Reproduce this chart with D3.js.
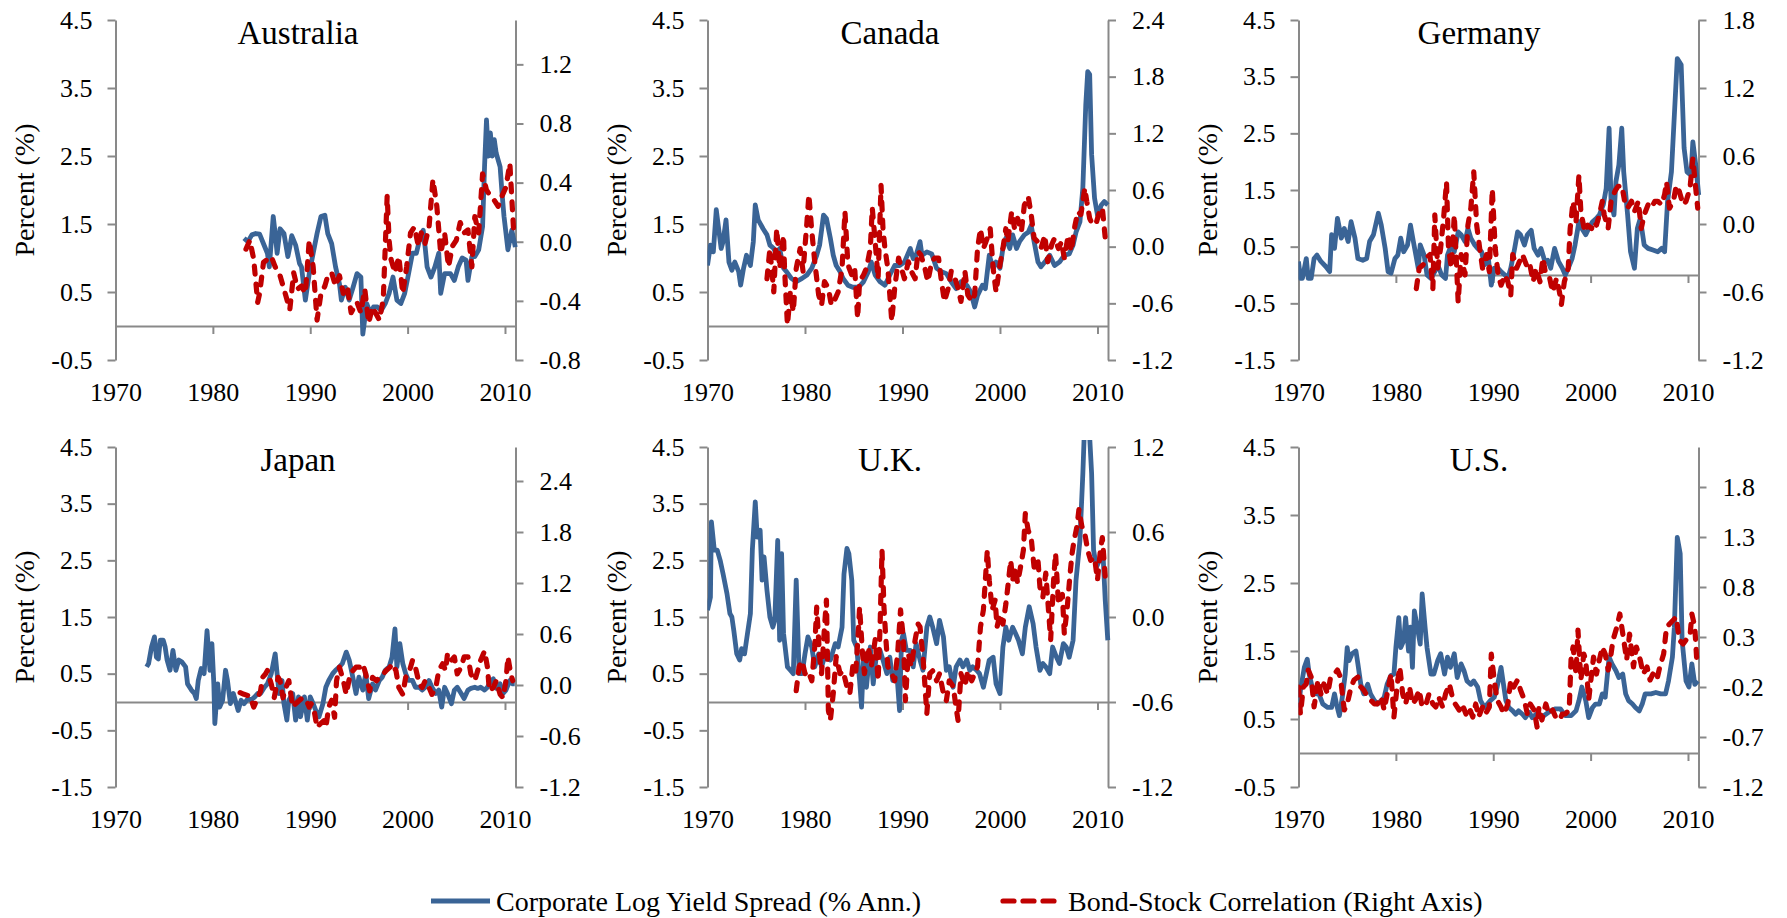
<!DOCTYPE html>
<html><head><meta charset="utf-8">
<script src="https://cdn.jsdelivr.net/npm/d3@7"></script>
<style>
html,body{margin:0;padding:0;background:#fff;}
svg{display:block;font-family:"Liberation Serif","Times New Roman",serif;}
svg text{font-family:"Liberation Serif","Times New Roman",serif;}
</style></head><body>
<svg id="chart" width="1787" height="918"></svg>
<script>
// ---------- data: [year, value] ----------
const ausSpread=[[1983.2,1.29],[1983.6,1.24],[1984.0,1.34],[1984.4,1.36],[1984.8,1.35],[1985.2,1.21],[1985.6,1.07],[1985.8,0.87],[1986.2,1.61],[1986.4,1.36],[1986.6,1.07],[1986.9,1.43],[1987.3,1.36],[1987.7,1.02],[1987.9,1.16],[1988.1,1.33],[1988.5,1.19],[1988.9,0.92],[1989.1,0.87],[1989.5,0.38],[1989.9,0.77],[1990.3,1.07],[1990.7,1.36],[1991.1,1.61],[1991.5,1.63],[1991.8,1.36],[1992.2,1.21],[1992.6,0.87],[1993.0,0.62],[1993.2,0.38],[1993.6,0.57],[1994.0,0.38],[1994.4,0.57],[1994.8,0.77],[1995.2,0.72],[1995.4,-0.12],[1995.8,0.33],[1996.2,0.18],[1996.5,0.28],[1996.9,0.28],[1997.3,0.23],[1997.7,0.33],[1998.1,0.48],[1998.5,0.72],[1998.9,0.38],[1999.3,0.33],[1999.7,0.48],[2000.1,0.77],[2000.5,1.07],[2000.9,1.07],[2001.3,1.31],[2001.6,1.41],[2001.8,1.16],[2002.0,0.87],[2002.4,0.72],[2002.8,0.87],[2003.2,1.07],[2003.4,0.48],[2003.8,0.77],[2004.4,0.77],[2004.8,0.67],[2005.2,0.87],[2005.6,1.0],[2006.0,0.97],[2006.2,0.67],[2006.6,1.02],[2006.9,1.02],[2007.3,1.12],[2007.7,1.46],[2007.9,2.34],[2008.1,3.03],[2008.3,2.5],[2008.5,2.84],[2008.7,2.5],[2008.9,2.74],[2009.1,2.54],[2009.5,2.34],[2009.7,1.95],[2009.9,1.61],[2010.3,1.12],[2010.7,1.41],[2011.06,1.16]];
const ausCorr=[[1983.4,-0.05],[1983.8,0.01],[1984.2,-0.12],[1984.6,-0.41],[1984.8,-0.35],[1985.2,-0.14],[1985.6,-0.12],[1986.0,-0.10],[1986.4,-0.17],[1986.9,-0.23],[1987.3,-0.32],[1987.9,-0.46],[1988.3,-0.21],[1988.7,-0.32],[1989.1,-0.30],[1989.5,-0.35],[1989.9,0.01],[1990.3,-0.17],[1990.7,-0.53],[1991.1,-0.35],[1991.5,-0.30],[1991.8,-0.23],[1992.2,-0.21],[1992.6,-0.30],[1993.0,-0.23],[1993.4,-0.35],[1993.8,-0.30],[1994.2,-0.48],[1994.8,-0.41],[1995.2,-0.48],[1995.6,-0.32],[1996.0,-0.55],[1996.4,-0.44],[1996.7,-0.48],[1997.1,-0.53],[1997.5,-0.39],[1997.9,0.31],[1998.1,0.01],[1998.3,-0.12],[1998.7,-0.21],[1999.1,-0.10],[1999.5,-0.35],[1999.9,-0.17],[2000.3,0.06],[2000.7,0.10],[2001.1,-0.03],[2001.4,0.06],[2001.8,-0.01],[2002.2,0.10],[2002.6,0.42],[2003.0,0.24],[2003.4,-0.08],[2003.8,0.06],[2004.2,-0.17],[2004.6,-0.03],[2005.0,0.01],[2005.4,0.13],[2005.8,0.06],[2006.2,0.08],[2006.6,-0.17],[2006.9,0.17],[2007.3,0.06],[2007.7,0.46],[2008.1,0.35],[2008.5,0.31],[2008.9,0.28],[2009.3,0.24],[2009.7,0.31],[2010.1,0.37],[2010.5,0.53],[2010.9,0.06]];

const canSpread=[[1970.0,0.89],[1970.3,1.19],[1970.6,1.09],[1970.9,1.71],[1971.1,1.48],[1971.4,1.14],[1971.6,1.24],[1971.9,1.56],[1972.2,0.94],[1972.5,0.82],[1972.8,0.94],[1973.2,0.80],[1973.4,0.60],[1973.7,0.85],[1974.0,1.04],[1974.4,0.89],[1974.7,1.24],[1974.9,1.78],[1975.2,1.56],[1975.7,1.43],[1976.1,1.34],[1976.4,1.19],[1976.8,1.14],[1977.1,1.04],[1977.4,1.14],[1977.8,0.85],[1978.1,0.80],[1978.6,0.70],[1979.1,0.65],[1979.7,0.70],[1980.2,0.75],[1980.7,0.85],[1981.2,1.04],[1981.5,1.19],[1981.9,1.63],[1982.2,1.58],[1982.6,1.29],[1982.9,1.04],[1983.2,0.89],[1983.6,0.80],[1983.9,0.70],[1984.4,0.60],[1984.9,0.57],[1985.5,0.57],[1986.0,0.65],[1986.5,0.80],[1986.8,0.94],[1987.2,0.75],[1987.7,0.65],[1988.2,0.60],[1988.7,0.75],[1989.2,0.89],[1989.7,0.89],[1990.2,0.94],[1990.8,1.14],[1991.1,0.99],[1991.4,1.04],[1991.8,1.24],[1992.0,1.04],[1992.5,1.09],[1993.0,1.06],[1993.5,0.85],[1994.0,0.80],[1994.5,0.77],[1995.0,0.65],[1995.5,0.55],[1996.0,0.65],[1996.6,0.60],[1997.0,0.50],[1997.4,0.28],[1997.7,0.45],[1998.2,0.60],[1998.5,0.55],[1998.9,1.04],[1999.3,0.85],[1999.6,0.94],[2000.0,0.85],[2000.3,1.14],[2000.6,1.29],[2001.0,1.14],[2001.3,1.34],[2001.7,1.14],[2002.0,1.24],[2002.5,1.34],[2002.9,1.38],[2003.2,1.48],[2003.5,1.24],[2003.9,0.94],[2004.2,0.87],[2004.6,0.94],[2005.1,1.04],[2005.6,0.89],[2006.1,0.94],[2006.6,1.04],[2007.1,1.06],[2007.5,1.19],[2007.8,1.38],[2008.2,1.53],[2008.5,2.03],[2008.8,3.25],[2009.0,3.74],[2009.2,3.70],[2009.4,2.52],[2009.7,1.88],[2010.0,1.63],[2010.4,1.78],[2010.7,1.83],[2011.06,1.78]];
const canCorr=[[1976.1,-0.34],[1976.4,-0.02],[1976.8,-0.48],[1977.1,0.19],[1977.4,-0.23],[1977.8,0.12],[1977.9,-0.23],[1978.2,-0.83],[1978.5,-0.48],[1978.8,-0.69],[1979.1,-0.23],[1979.5,-0.02],[1979.8,-0.26],[1980.2,0.26],[1980.4,0.55],[1980.7,0.16],[1981.0,-0.16],[1981.4,-0.51],[1981.7,-0.62],[1982.0,-0.37],[1982.4,-0.44],[1982.7,-0.62],[1983.1,-0.55],[1983.4,-0.48],[1983.8,-0.23],[1984.1,0.37],[1984.4,-0.19],[1984.8,-0.30],[1985.1,-0.23],[1985.4,-0.76],[1985.6,-0.37],[1986.0,-0.30],[1986.3,-0.23],[1986.7,-0.02],[1986.9,0.41],[1987.2,0.05],[1987.5,-0.34],[1987.8,0.65],[1988.0,0.19],[1988.2,-0.02],[1988.5,-0.23],[1988.9,-0.79],[1989.2,-0.44],[1989.6,-0.12],[1989.9,-0.23],[1990.2,-0.34],[1990.6,-0.16],[1990.9,-0.26],[1991.3,-0.34],[1991.6,-0.05],[1991.9,-0.09],[1992.3,-0.23],[1992.6,-0.37],[1993.0,-0.16],[1993.3,-0.12],[1993.7,-0.12],[1994.0,-0.37],[1994.3,-0.58],[1994.7,-0.44],[1995.0,-0.26],[1995.4,-0.34],[1995.7,-0.44],[1996.0,-0.58],[1996.4,-0.26],[1996.7,-0.51],[1997.1,-0.58],[1997.4,-0.51],[1997.7,-0.02],[1998.0,0.19],[1998.3,-0.02],[1998.7,0.09],[1999.0,0.19],[1999.3,-0.23],[1999.6,-0.48],[2000.0,-0.19],[2000.3,-0.02],[2000.6,0.19],[2000.8,0.05],[2001.2,0.37],[2001.5,0.19],[2001.8,0.30],[2002.2,0.16],[2002.5,0.44],[2002.9,0.53],[2003.2,0.34],[2003.5,0.09],[2003.9,0.05],[2004.2,-0.02],[2004.6,0.12],[2004.9,-0.16],[2005.3,0.02],[2005.6,0.09],[2006.0,-0.02],[2006.3,0.05],[2006.6,-0.12],[2007.0,0.12],[2007.3,-0.05],[2007.7,0.23],[2008.0,0.37],[2008.3,0.34],[2008.7,0.62],[2008.9,0.48],[2009.2,0.30],[2009.5,0.23],[2009.9,0.26],[2010.2,0.37],[2010.5,0.41],[2010.8,0.09]];

const gerSpread=[[1970.0,0.24],[1970.2,-0.06],[1970.4,-0.06],[1970.8,0.29],[1971.0,-0.06],[1971.3,-0.06],[1971.6,0.29],[1971.9,0.35],[1972.3,0.24],[1972.8,0.15],[1973.2,0.06],[1973.4,0.71],[1973.7,0.47],[1974.0,1.0],[1974.4,0.65],[1974.7,0.82],[1975.1,0.59],[1975.4,0.94],[1975.8,0.65],[1976.1,0.29],[1976.6,0.26],[1977.0,0.29],[1977.3,0.59],[1977.7,0.71],[1978.2,1.09],[1978.5,0.88],[1978.9,0.47],[1979.2,0.06],[1979.5,0.03],[1979.9,0.29],[1980.2,0.35],[1980.5,0.65],[1980.8,0.41],[1981.2,0.53],[1981.5,0.88],[1981.8,0.59],[1982.3,0.12],[1982.5,0.53],[1982.9,0.35],[1983.2,0.0],[1983.6,-0.06],[1984.0,0.06],[1984.3,0.18],[1984.7,0.0],[1985.1,-0.06],[1985.3,0.35],[1985.7,0.53],[1986.0,0.41],[1986.4,0.76],[1986.7,0.71],[1987.1,0.59],[1987.4,0.82],[1987.7,0.65],[1988.1,0.53],[1988.4,0.47],[1988.8,0.41],[1989.1,0.18],[1989.5,0.29],[1989.8,-0.18],[1990.1,0.12],[1990.5,0.12],[1990.8,0.06],[1991.2,0.0],[1991.5,-0.06],[1991.8,0.12],[1992.2,0.47],[1992.5,0.76],[1992.8,0.71],[1993.2,0.53],[1993.5,0.71],[1993.9,0.79],[1994.2,0.47],[1994.6,0.35],[1994.9,0.47],[1995.3,0.24],[1995.6,0.26],[1995.9,0.12],[1996.3,0.47],[1996.7,0.24],[1997.1,0.12],[1997.4,0.0],[1997.7,0.12],[1998.1,0.29],[1998.4,0.53],[1998.8,0.94],[1999.1,0.82],[1999.5,0.71],[1999.8,0.82],[2000.2,0.94],[2000.6,1.0],[2000.9,1.06],[2001.3,1.24],[2001.6,1.53],[2001.9,2.59],[2002.1,1.29],[2002.4,1.06],[2002.6,1.65],[2002.9,1.94],[2003.2,2.59],[2003.4,1.82],[2003.8,1.06],[2004.1,0.41],[2004.5,0.12],[2004.8,0.82],[2005.1,1.0],[2005.5,0.53],[2005.9,0.47],[2006.4,0.44],[2006.9,0.41],[2007.3,0.47],[2007.6,0.41],[2007.9,1.29],[2008.3,1.82],[2008.6,2.82],[2008.9,3.82],[2009.3,3.71],[2009.6,2.24],[2009.9,1.82],[2010.3,1.76],[2010.5,2.35],[2010.8,1.94],[2011.1,1.41]];
const gerCorr=[[1982.1,-0.57],[1982.4,-0.39],[1982.8,-0.36],[1983.1,-0.30],[1983.5,-0.27],[1983.8,-0.57],[1984.0,0.08],[1984.3,-0.39],[1984.6,-0.21],[1984.9,0.05],[1985.2,0.37],[1985.4,-0.21],[1985.7,-0.39],[1986.0,0.08],[1986.4,-0.69],[1986.7,-0.27],[1987.1,-0.45],[1987.4,-0.01],[1987.7,0.14],[1988.0,0.46],[1988.3,-0.01],[1988.6,-0.21],[1988.9,-0.39],[1989.3,-0.27],[1989.6,-0.42],[1989.9,0.31],[1990.2,-0.21],[1990.5,-0.45],[1990.8,-0.54],[1991.2,-0.45],[1991.5,-0.51],[1991.8,-0.63],[1992.0,-0.27],[1992.4,-0.39],[1992.7,-0.33],[1993.0,-0.27],[1993.4,-0.36],[1993.7,-0.33],[1994.1,-0.51],[1994.4,-0.39],[1994.8,-0.51],[1995.1,-0.30],[1995.4,-0.45],[1995.8,-0.48],[1996.1,-0.60],[1996.5,-0.48],[1996.8,-0.60],[1997.0,-0.71],[1997.3,-0.51],[1997.7,-0.39],[1997.9,-0.04],[1998.2,0.20],[1998.5,0.02],[1998.8,0.43],[1999.0,0.11],[1999.4,-0.07],[1999.7,-0.01],[2000.1,-0.04],[2000.3,0.02],[2000.6,-0.01],[2000.9,0.08],[2001.2,0.20],[2001.4,0.08],[2001.8,-0.04],[2002.1,0.20],[2002.5,0.29],[2002.8,0.33],[2003.2,0.34],[2003.5,0.20],[2003.8,0.14],[2004.2,0.20],[2004.5,0.11],[2004.9,0.20],[2005.2,-0.04],[2005.5,0.08],[2005.9,0.17],[2006.2,0.14],[2006.6,0.20],[2006.9,0.20],[2007.3,0.17],[2007.6,0.26],[2007.8,0.37],[2008.1,0.14],[2008.5,0.20],[2008.8,0.34],[2009.1,0.29],[2009.5,0.17],[2009.8,0.20],[2010.2,0.31],[2010.5,0.58],[2010.8,0.31],[2011.0,0.14]];

const jpnSpread=[[1973.2,0.62],[1973.4,0.68],[1973.7,0.97],[1974.0,1.15],[1974.2,0.79],[1974.4,0.76],[1974.6,1.09],[1974.9,1.09],[1975.1,0.97],[1975.3,0.74],[1975.6,0.56],[1975.9,0.91],[1976.2,0.56],[1976.5,0.74],[1976.8,0.71],[1977.2,0.62],[1977.4,0.32],[1977.8,0.21],[1978.1,0.15],[1978.3,0.06],[1978.5,0.38],[1978.8,0.59],[1979.1,0.50],[1979.4,1.26],[1979.7,0.56],[1979.9,1.03],[1980.1,0.32],[1980.2,-0.38],[1980.5,0.32],[1980.7,-0.09],[1981.0,0.03],[1981.3,0.56],[1981.5,0.38],[1981.8,-0.03],[1982.1,0.15],[1982.4,-0.03],[1982.6,-0.15],[1982.9,0.03],[1983.2,-0.03],[1983.6,0.06],[1983.9,0.03],[1984.3,0.09],[1984.6,0.15],[1984.9,0.15],[1985.3,0.26],[1985.6,0.32],[1986.0,0.50],[1986.2,0.68],[1986.4,0.85],[1986.6,0.50],[1986.8,0.15],[1987.1,0.38],[1987.3,-0.03],[1987.6,-0.32],[1987.8,0.03],[1988.2,0.15],[1988.5,-0.32],[1988.8,0.09],[1989.0,-0.26],[1989.4,0.09],[1989.7,-0.32],[1990.0,0.09],[1990.3,-0.03],[1990.7,-0.21],[1990.9,-0.26],[1991.3,-0.03],[1991.6,0.26],[1991.9,0.38],[1992.3,0.50],[1992.6,0.56],[1993.0,0.62],[1993.3,0.68],[1993.7,0.88],[1994.0,0.74],[1994.3,0.50],[1994.7,0.15],[1995.0,0.44],[1995.4,0.21],[1995.7,0.50],[1996.0,0.06],[1996.4,0.32],[1996.7,0.21],[1997.1,0.38],[1997.4,0.44],[1997.7,0.56],[1998.1,0.62],[1998.4,0.79],[1998.7,1.29],[1998.9,0.62],[1999.2,1.03],[1999.5,0.68],[1999.8,0.50],[2000.1,0.38],[2000.5,0.38],[2000.8,0.26],[2001.2,0.26],[2001.5,0.21],[2001.8,0.26],[2002.2,0.38],[2002.5,0.26],[2002.9,0.15],[2003.2,0.21],[2003.5,-0.09],[2003.8,0.26],[2004.1,0.15],[2004.5,-0.03],[2004.8,0.21],[2005.1,0.26],[2005.5,0.15],[2005.8,0.06],[2006.2,0.21],[2006.5,0.24],[2006.9,0.26],[2007.2,0.24],[2007.5,0.26],[2007.9,0.21],[2008.2,0.26],[2008.6,0.38],[2008.8,0.41],[2009.1,0.24],[2009.5,0.32],[2009.8,0.15],[2010.1,0.21],[2010.5,0.38],[2010.8,0.32],[2011.0,0.32]];
const jpnCorr=[[1982.8,-0.09],[1983.2,-0.11],[1983.8,-0.13],[1984.2,-0.26],[1984.6,-0.15],[1984.9,-0.07],[1985.1,0.09],[1985.4,0.13],[1985.6,0.17],[1986.0,0.01],[1986.3,-0.15],[1986.7,0.09],[1986.9,0.05],[1987.2,-0.15],[1987.5,-0.03],[1987.8,0.05],[1988.2,-0.26],[1988.5,-0.22],[1988.9,-0.18],[1989.2,-0.15],[1989.6,-0.18],[1989.9,-0.26],[1990.1,-0.22],[1990.4,-0.30],[1990.7,-0.50],[1991.0,-0.46],[1991.4,-0.42],[1991.6,-0.50],[1991.9,-0.26],[1992.2,-0.18],[1992.5,-0.38],[1992.7,0.05],[1993.0,0.21],[1993.4,0.05],[1993.7,-0.11],[1994.1,0.13],[1994.4,0.17],[1994.7,0.21],[1995.1,0.21],[1995.4,0.25],[1995.7,0.13],[1996.1,-0.07],[1996.4,0.09],[1996.8,0.05],[1997.1,0.09],[1997.5,0.13],[1997.8,0.17],[1998.2,0.21],[1998.4,0.25],[1998.8,0.17],[1999.1,-0.03],[1999.5,-0.11],[1999.8,0.09],[2000.1,0.13],[2000.5,0.29],[2000.8,0.21],[2001.2,0.01],[2001.5,-0.03],[2001.8,0.05],[2002.2,-0.03],[2002.5,-0.11],[2002.9,-0.03],[2003.2,0.17],[2003.6,0.25],[2003.9,0.17],[2004.1,0.37],[2004.5,0.29],[2004.8,0.33],[2005.1,0.13],[2005.5,0.21],[2005.8,0.33],[2006.2,0.33],[2006.5,0.13],[2006.9,0.05],[2007.2,0.17],[2007.5,0.29],[2007.9,0.40],[2008.2,0.21],[2008.4,-0.07],[2008.8,-0.03],[2009.1,0.05],[2009.5,-0.11],[2009.8,-0.15],[2010.1,0.05],[2010.3,0.33],[2010.6,0.13],[2010.8,0.05]];

const ukSpread=[[1970.0,1.62],[1970.3,1.85],[1970.4,3.18],[1970.7,2.68],[1971.0,2.68],[1971.3,2.50],[1971.6,2.26],[1972.0,1.91],[1972.3,1.56],[1972.5,1.50],[1972.7,1.26],[1973.0,0.85],[1973.3,0.74],[1973.5,0.94],[1973.8,0.85],[1974.0,1.09],[1974.4,1.56],[1974.6,2.68],[1974.9,3.53],[1975.1,2.91],[1975.4,3.03],[1975.6,2.15],[1975.8,2.56],[1976.1,1.97],[1976.4,1.50],[1976.7,1.32],[1976.9,1.44],[1977.2,2.85],[1977.4,1.09],[1977.6,2.62],[1977.8,1.21],[1978.2,0.62],[1978.5,0.56],[1978.8,0.50],[1979.1,2.15],[1979.4,0.50],[1979.7,0.50],[1980.0,0.85],[1980.3,1.15],[1980.7,0.97],[1981.0,0.62],[1981.4,0.85],[1981.7,0.62],[1982.0,0.79],[1982.6,0.74],[1983.1,1.03],[1983.4,0.97],[1983.8,1.32],[1984.0,2.26],[1984.3,2.71],[1984.5,2.62],[1984.8,2.15],[1985.0,1.09],[1985.3,0.97],[1985.6,0.38],[1985.8,-0.09],[1986.0,0.74],[1986.3,0.26],[1986.7,0.97],[1987.0,0.32],[1987.3,0.79],[1987.7,0.91],[1988.0,0.74],[1988.4,0.50],[1988.7,0.79],[1989.0,0.38],[1989.4,0.56],[1989.7,-0.15],[1989.9,1.09],[1990.1,1.21],[1990.4,0.91],[1990.8,0.91],[1991.1,0.62],[1991.4,1.03],[1991.8,0.74],[1992.1,0.56],[1992.5,1.32],[1992.8,1.50],[1993.1,1.32],[1993.5,1.03],[1993.8,1.44],[1994.2,1.15],[1994.5,0.56],[1994.8,0.62],[1995.2,0.26],[1995.5,0.62],[1995.9,0.74],[1996.2,0.62],[1996.6,0.74],[1996.9,0.56],[1997.2,0.62],[1997.6,0.56],[1997.9,0.50],[1998.3,0.26],[1998.6,0.50],[1998.9,0.74],[1999.3,0.79],[1999.6,0.32],[2000.0,0.15],[2000.3,0.97],[2000.6,1.32],[2000.9,1.09],[2001.3,1.32],[2001.6,1.21],[2001.9,1.09],[2002.3,0.85],[2002.6,1.32],[2003.0,1.68],[2003.4,1.38],[2003.7,0.97],[2004.1,0.56],[2004.4,0.68],[2004.7,0.62],[2005.1,0.50],[2005.4,0.97],[2005.8,0.79],[2006.1,0.68],[2006.5,1.03],[2006.8,0.97],[2007.1,0.79],[2007.5,1.09],[2007.8,2.15],[2008.2,2.85],[2008.5,4.03],[2008.7,5.0],[2009.1,5.0],[2009.4,4.03],[2009.6,2.68],[2009.9,2.38],[2010.2,2.50],[2010.6,2.50],[2010.8,1.79],[2011.06,1.09]];
const ukCorr=[[1979.1,-0.52],[1979.4,-0.35],[1979.7,-0.31],[1980.0,-0.40],[1980.3,-0.38],[1980.7,-0.45],[1981.0,-0.21],[1981.2,0.07],[1981.5,-0.28],[1981.7,-0.40],[1982.0,-0.07],[1982.2,0.12],[1982.4,-0.66],[1982.6,-0.73],[1982.9,-0.54],[1983.2,-0.28],[1983.6,-0.40],[1983.9,-0.38],[1984.3,-0.49],[1984.6,-0.54],[1984.9,-0.35],[1985.2,-0.40],[1985.5,-0.07],[1985.6,0.07],[1985.9,-0.26],[1986.1,-0.40],[1986.5,-0.21],[1986.8,-0.35],[1987.2,-0.16],[1987.5,-0.45],[1987.7,-0.07],[1987.9,0.47],[1988.1,0.07],[1988.3,-0.16],[1988.5,-0.35],[1988.9,-0.40],[1989.2,-0.45],[1989.5,-0.26],[1989.8,0.05],[1990.1,-0.16],[1990.3,-0.59],[1990.6,-0.26],[1990.9,-0.35],[1991.3,-0.16],[1991.6,-0.05],[1991.8,-0.07],[1992.1,-0.28],[1992.5,-0.68],[1992.8,-0.40],[1993.1,-0.38],[1993.5,-0.45],[1993.8,-0.40],[1994.2,-0.54],[1994.5,-0.59],[1994.8,-0.45],[1995.2,-0.49],[1995.5,-0.64],[1995.7,-0.73],[1996.0,-0.40],[1996.4,-0.49],[1996.7,-0.38],[1997.1,-0.45],[1997.4,-0.40],[1997.7,-0.35],[1998.0,-0.07],[1998.3,0.05],[1998.5,0.26],[1998.7,0.47],[1998.9,0.26],[1999.2,0.05],[1999.5,0.12],[1999.7,-0.07],[2000.0,0.02],[2000.3,-0.05],[2000.6,0.09],[2000.8,0.21],[2001.1,0.40],[2001.3,0.26],[2001.6,0.35],[2001.8,0.24],[2002.1,0.35],[2002.4,0.47],[2002.6,0.73],[2002.9,0.61],[2003.2,0.56],[2003.5,0.35],[2003.9,0.40],[2004.1,0.21],[2004.4,0.14],[2004.7,0.31],[2004.9,0.12],[2005.2,-0.16],[2005.5,0.26],[2005.7,0.45],[2006.0,0.09],[2006.4,0.16],[2006.6,-0.12],[2006.9,0.07],[2007.2,0.31],[2007.4,0.45],[2007.6,0.54],[2007.9,0.64],[2008.1,0.76],[2008.4,0.64],[2008.7,0.59],[2009.0,0.47],[2009.3,0.40],[2009.7,0.42],[2010.0,0.26],[2010.3,0.47],[2010.5,0.56],[2010.8,0.28],[2011.06,0.31]];

const usSpread=[[1970.0,0.67],[1970.2,0.92],[1970.6,1.26],[1970.9,1.38],[1971.1,1.16],[1971.4,0.97],[1971.8,0.87],[1972.1,0.87],[1972.5,0.72],[1973.0,0.67],[1973.4,0.67],[1973.7,0.87],[1973.9,0.72],[1974.2,0.55],[1974.5,0.82],[1974.8,1.16],[1975.0,1.55],[1975.2,1.36],[1975.5,1.46],[1975.9,1.50],[1976.1,1.31],[1976.4,1.01],[1976.7,0.87],[1977.1,1.01],[1977.4,0.87],[1977.8,0.77],[1978.1,0.72],[1978.5,0.77],[1978.8,0.82],[1979.1,1.01],[1979.5,1.14],[1979.8,1.16],[1980.0,1.55],[1980.3,1.99],[1980.5,1.55],[1980.8,1.65],[1981.0,1.99],[1981.3,1.50],[1981.5,1.85],[1981.7,1.26],[1981.9,2.09],[1982.2,1.85],[1982.5,1.60],[1982.7,2.34],[1983.0,1.85],[1983.2,1.55],[1983.6,1.16],[1983.9,1.16],[1984.3,1.36],[1984.6,1.46],[1985.0,1.16],[1985.3,1.41],[1985.6,1.26],[1986.0,1.46],[1986.3,1.11],[1986.7,1.31],[1987.0,1.21],[1987.3,1.06],[1987.7,1.01],[1988.0,1.06],[1988.4,0.97],[1988.7,0.77],[1989.1,0.67],[1989.4,0.72],[1989.7,0.77],[1990.1,0.82],[1990.4,0.97],[1990.8,1.26],[1991.0,1.06],[1991.3,0.77],[1991.6,0.67],[1992.0,0.62],[1992.3,0.57],[1992.6,0.62],[1993.0,0.57],[1993.3,0.52],[1993.7,0.60],[1994.0,0.52],[1994.4,0.57],[1994.9,0.52],[1995.4,0.57],[1995.9,0.62],[1996.4,0.65],[1996.9,0.65],[1997.4,0.55],[1998.0,0.55],[1998.5,0.62],[1998.8,0.77],[1999.1,0.97],[1999.5,0.77],[1999.8,0.52],[2000.2,0.67],[2000.5,0.72],[2000.9,0.72],[2001.2,0.87],[2001.5,0.82],[2001.9,1.41],[2002.2,1.31],[2002.6,1.21],[2002.9,1.11],[2003.3,1.16],[2003.6,0.87],[2003.9,0.77],[2004.3,0.72],[2004.6,0.67],[2005.0,0.62],[2005.3,0.72],[2005.6,0.87],[2006.2,0.87],[2006.7,0.89],[2007.2,0.87],[2007.7,0.87],[2008.0,1.06],[2008.4,1.41],[2008.6,1.85],[2008.9,3.17],[2009.2,2.93],[2009.4,1.65],[2009.8,1.06],[2010.1,0.97],[2010.4,1.31],[2010.7,1.01],[2011.0,1.06]];
const usCorr=[[1970.0,-0.20],[1970.2,-0.47],[1970.5,-0.20],[1970.8,-0.17],[1971.0,-0.03],[1971.3,-0.10],[1971.6,-0.40],[1972.0,-0.13],[1972.3,-0.27],[1972.6,-0.17],[1973.0,-0.27],[1973.3,-0.10],[1973.7,-0.07],[1974.0,-0.03],[1974.3,-0.10],[1974.7,-0.43],[1975.0,-0.37],[1975.4,-0.20],[1975.7,-0.13],[1976.1,-0.10],[1976.4,-0.20],[1976.7,-0.23],[1977.1,-0.30],[1977.4,-0.33],[1977.8,-0.37],[1978.1,-0.37],[1978.5,-0.30],[1978.8,-0.43],[1979.1,-0.27],[1979.5,-0.07],[1979.8,-0.50],[1980.2,-0.13],[1980.4,0.0],[1980.7,-0.27],[1981.0,-0.37],[1981.4,-0.20],[1981.7,-0.37],[1982.0,-0.33],[1982.4,-0.23],[1982.7,-0.40],[1983.1,-0.37],[1983.4,-0.27],[1983.8,-0.37],[1984.1,-0.40],[1984.4,-0.30],[1984.8,-0.40],[1985.1,-0.27],[1985.5,-0.17],[1985.8,-0.30],[1986.1,-0.37],[1986.5,-0.43],[1986.8,-0.37],[1987.2,-0.47],[1987.5,-0.40],[1987.9,-0.50],[1988.2,-0.37],[1988.5,-0.50],[1988.9,-0.40],[1989.2,-0.47],[1989.6,-0.40],[1989.8,0.13],[1990.1,-0.13],[1990.4,-0.33],[1990.8,-0.40],[1991.1,-0.47],[1991.5,-0.37],[1991.8,-0.13],[1992.1,-0.20],[1992.5,-0.13],[1992.8,-0.23],[1993.2,-0.33],[1993.5,-0.47],[1993.8,-0.37],[1994.2,-0.43],[1994.5,-0.60],[1994.7,-0.40],[1995.0,-0.53],[1995.4,-0.37],[1995.7,-0.47],[1996.1,-0.43],[1996.4,-0.50],[1996.8,-0.53],[1997.1,-0.47],[1997.4,-0.47],[1997.8,-0.43],[1998.0,0.10],[1998.2,0.20],[1998.5,-0.07],[1998.7,0.37],[1999.0,-0.13],[1999.3,0.13],[1999.5,0.07],[1999.8,-0.33],[2000.1,-0.07],[2000.3,0.10],[2000.6,-0.07],[2000.9,0.07],[2001.2,0.20],[2001.5,0.13],[2001.8,-0.03],[2002.1,0.13],[2002.3,0.27],[2002.7,0.40],[2003.0,0.53],[2003.4,0.27],[2003.7,0.07],[2004.0,0.33],[2004.4,0.0],[2004.7,0.20],[2005.1,0.07],[2005.4,-0.07],[2005.8,0.0],[2006.1,-0.13],[2006.4,-0.07],[2006.8,-0.13],[2007.1,0.0],[2007.5,0.13],[2007.8,0.40],[2008.1,0.43],[2008.5,0.47],[2008.8,0.50],[2009.1,0.27],[2009.5,0.23],[2009.8,0.27],[2010.2,0.30],[2010.4,0.53],[2010.7,0.40],[2010.9,0.07]];

// ---------- axes / labels ----------
const countries=["Australia","Canada","Germany","Japan","U.K.","U.S."];
const yearTicks=[1970,1980,1990,2000,2010];
const leftTicksA=[-0.5,0.5,1.5,2.5,3.5,4.5];
const leftTicksB=[-1.5,-0.5,0.5,1.5,2.5,3.5,4.5];
const rightTicksAus=[-0.8,-0.4,0.0,0.4,0.8,1.2];
const rightTicksCan=[-1.2,-0.6,0.0,0.6,1.2,1.8,2.4];
const rightTicksGer=[-1.2,-0.6,0.0,0.6,1.2,1.8];
const rightTicksJpn=[-1.2,-0.6,0.0,0.6,1.2,1.8,2.4];
const rightTicksUK=[-1.2,-0.6,0.0,0.6,1.2];
const rightTicksUS=[-1.2,-0.7,-0.2,0.3,0.8,1.3,1.8];
const legendLabels=["Corporate Log Yield Spread (% Ann.)","Bond-Stock Correlation (Right Axis)"];

const panels=[
 {name:countries[0],col:0,row:0,lDom:[-0.5,4.5],lTicks:leftTicksA,rDom:[-0.8,1.5],rTicks:rightTicksAus,spread:ausSpread,corr:ausCorr},
 {name:countries[1],col:1,row:0,lDom:[-0.5,4.5],lTicks:leftTicksA,rDom:[-1.2,2.4],rTicks:rightTicksCan,spread:canSpread,corr:canCorr},
 {name:countries[2],col:2,row:0,lDom:[-1.5,4.5],lTicks:leftTicksB,rDom:[-1.2,1.8],rTicks:rightTicksGer,spread:gerSpread,corr:gerCorr},
 {name:countries[3],col:0,row:1,lDom:[-1.5,4.5],lTicks:leftTicksB,rDom:[-1.2,2.8],rTicks:rightTicksJpn,spread:jpnSpread,corr:jpnCorr},
 {name:countries[4],col:1,row:1,lDom:[-1.5,4.5],lTicks:leftTicksB,rDom:[-1.2,1.2],rTicks:rightTicksUK,spread:ukSpread,corr:ukCorr},
 {name:countries[5],col:2,row:1,lDom:[-0.5,4.5],lTicks:leftTicksA,rDom:[-1.2,2.2],rTicks:rightTicksUS,spread:usSpread,corr:usCorr}
];

const svg=d3.select("#chart");
const SERIF="Liberation Serif, Times New Roman, serif";
const colLeft=[115.5,707.5,1298.5], colRight=[515.5,1108,1698.5];
const rowTop=[20,447], rowBottom=[360,787];
const titleX=[298,890,1479];
const AXIS="#898989", BLUE="#3A6496", RED="#C00000";
const FS=26;
const fmt=d=>d.toFixed(1);

function styleAxis(g){
  g.attr("font-family",SERIF).attr("font-size",FS);
  g.selectAll("path.domain").attr("stroke",AXIS).attr("stroke-width",2);
  g.selectAll(".tick line").attr("stroke",AXIS).attr("stroke-width",2);
  g.selectAll(".tick text").attr("fill","#000").attr("font-family",SERIF).attr("font-size",FS);
}

panels.forEach((p,i)=>{
  const L=colLeft[p.col],R=colRight[p.col],T=rowTop[p.row],B=rowBottom[p.row];
  const x=d3.scaleLinear().domain([1970,2011.08]).range([L,R]);
  const yL=d3.scaleLinear().domain(p.lDom).range([B,T]);
  const yR=d3.scaleLinear().domain(p.rDom).range([B,T]);
  const g=svg.append("g");

  g.append("g").attr("transform",`translate(0,${yL(0)})`)
    .call(d3.axisBottom(x).tickValues(yearTicks).tickSize(8).tickSizeOuter(0).tickFormat(""))
    .call(styleAxis);
  g.append("g").attr("transform",`translate(0,${B})`)
    .call(d3.axisBottom(x).tickValues(yearTicks).tickSize(0).tickPadding(23).tickFormat(d=>String(d)))
    .call(a=>a.select("path.domain").remove())
    .call(styleAxis);
  g.append("g").attr("transform",`translate(${L},0)`)
    .call(d3.axisLeft(yL).tickValues(p.lTicks).tickSize(8).tickSizeOuter(0).tickPadding(15).tickFormat(fmt))
    .call(styleAxis);
  g.append("g").attr("transform",`translate(${R},0)`)
    .call(d3.axisRight(yR).tickValues(p.rTicks).tickSize(8).tickSizeOuter(0).tickPadding(16).tickFormat(fmt))
    .call(styleAxis);

  g.append("text").attr("transform",`translate(${L-91},${(T+B)/2}) rotate(-90)`)
    .attr("text-anchor","middle").attr("dy","0.35em")
    .attr("font-family",SERIF).attr("font-size",28).text("Percent (%)");
  g.append("text").attr("x",titleX[p.col]).attr("y",T+24).attr("text-anchor","middle")
    .attr("font-family",SERIF).attr("font-size",33).text(p.name);

  const clipId="clip"+i;
  svg.append("clipPath").attr("id",clipId).append("rect")
    .attr("x",L).attr("y",T-7).attr("width",R-L+4).attr("height",B-T+14);
  const lines=g.append("g").attr("clip-path",`url(#${clipId})`);
  lines.append("path").datum(p.spread)
    .attr("d",d3.line().x(d=>x(d[0])).y(d=>yL(d[1])))
    .attr("fill","none").attr("stroke",BLUE).attr("stroke-width",4.8).attr("stroke-linejoin","round");
  lines.append("path").datum(p.corr)
    .attr("d",d3.line().x(d=>x(d[0])).y(d=>yR(d[1])))
    .attr("fill","none").attr("stroke",RED).attr("stroke-width",5.2)
    .attr("stroke-dasharray","8,10").attr("stroke-linecap","round").attr("stroke-linejoin","round");
});

const leg=svg.append("g").attr("font-family",SERIF).attr("font-size",28);
const LY=901;
leg.append("line").attr("x1",431).attr("x2",490).attr("y1",LY).attr("y2",LY)
  .attr("stroke",BLUE).attr("stroke-width",4.8);
leg.append("text").attr("x",496).attr("y",LY).attr("dy","0.35em").text(legendLabels[0]);
leg.append("line").attr("x1",1003).attr("x2",1060).attr("y1",LY).attr("y2",LY)
  .attr("stroke",RED).attr("stroke-width",5.2).attr("stroke-dasharray","11,9").attr("stroke-linecap","round");
leg.append("text").attr("x",1068).attr("y",LY).attr("dy","0.35em").text(legendLabels[1]);
</script>
</body></html>
